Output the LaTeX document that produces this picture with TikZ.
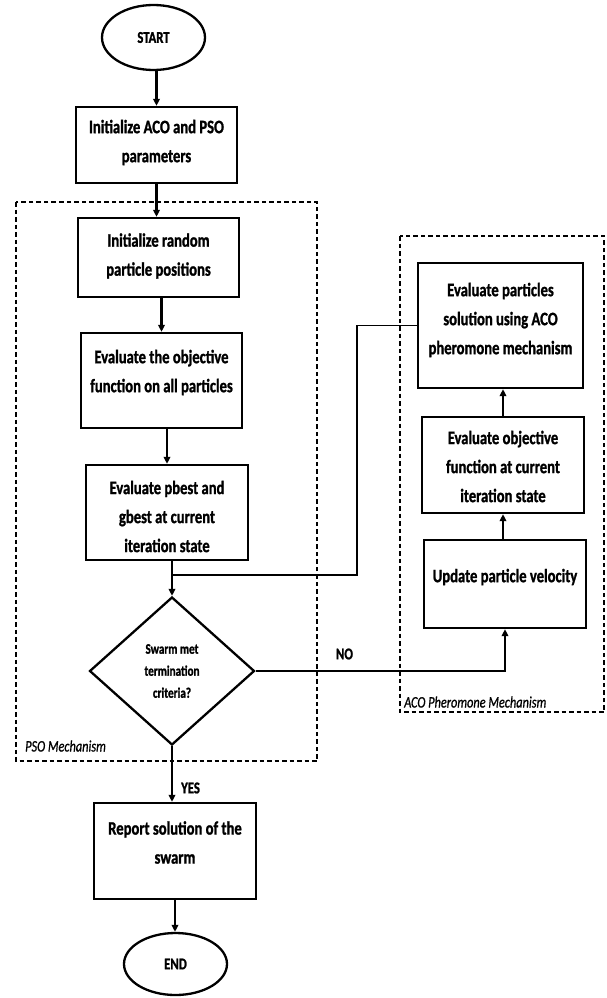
\documentclass[tikz,border=0pt]{standalone}
\usepackage{fontspec}
\setmainfont{Carlito}[FakeStretch=0.77,BoldFeatures={FakeBold=1.2},ItalicFeatures={FakeBold=0.8}]
\usetikzlibrary{shapes.geometric,arrows.meta}
\begin{document}
\begin{tikzpicture}[x=1pt,y=-1pt,
  box/.style={draw,line width=2.3pt,inner sep=0pt},
  txt/.style={font=\bfseries\fontsize{19}{29}\selectfont,align=center,inner sep=0pt},
  term/.style={draw,ellipse,line width=2.3pt,inner sep=0pt,font=\bfseries\fontsize{16.5}{20}\selectfont},
  dec/.style={draw,diamond,line width=2.3pt,inner sep=0pt,align=center,font=\bfseries\fontsize{14.5}{22}\selectfont},
  arr/.style={line width=2.1pt,-{Triangle[length=7pt,width=6.5pt]}},
  link/.style={line width=1.9pt},
  grp/.style={line width=1.6pt,dash pattern=on 4.5pt off 3pt},
  lab/.style={font=\bfseries\fontsize{16.5}{20}\selectfont,inner sep=0pt},
  mech/.style={font=\itshape\fontsize{16}{20}\selectfont,inner sep=0pt,anchor=west}]
\useasboundingbox (0,0) rectangle (606,998);
% group frames
\draw[grp] (16,202) rectangle (317,761);
\draw[grp] (400,236) rectangle (604,712);
\node[mech] (pso) at (25,746) {PSO Mechanism};
\node[mech] (aco) at (404,702) {ACO Pheromone Mechanism};
% terminals
\node[term,minimum width=103pt,minimum height=65pt] (start) at (153.5,37.5) {START};
\node[term,minimum width=103pt,minimum height=62pt] (end) at (175.5,964) {END};
% boxes
\node[box,minimum width=161pt,minimum height=76pt] (b1) at (156.5,145) {};
\node[txt] (t1) at (156.5,142.5) {Initialize ACO and PSO\\parameters};
\node[box,minimum width=161pt,minimum height=79pt] (b2) at (158.5,257.5) {};
\node[txt] (t2) at (158.5,256) {Initialize random\\particle positions};
\node[box,minimum width=161pt,minimum height=95pt] (b3) at (161.5,380.5) {};
\node[txt] (t3) at (161.5,372.5) {Evaluate the objective\\function on all particles};
\node[box,minimum width=162pt,minimum height=95pt] (b4) at (167,512.5) {};
\node[txt] (t4) at (167,516.5) {Evaluate pbest and\\gbest at current\\iteration state};
\node[dec,minimum width=165pt,minimum height=148pt] (dia) at (172,671) {Swarm met\\termination\\criteria?};
\node[box,minimum width=162pt,minimum height=96pt] (b5) at (175,851) {};
\node[txt] (t5) at (175,842.5) {Report solution of the\\swarm};
\node[box,minimum width=165pt,minimum height=125pt] (b7) at (500.5,325.5) {};
\node[txt] (t7) at (500.5,320) {Evaluate particles\\solution using ACO\\pheromone mechanism};
\node[box,minimum width=162pt,minimum height=96pt] (b8) at (503,465) {};
\node[txt] (t8) at (503,466.5) {Evaluate objective\\function at current\\iteration state};
\node[box,minimum width=162pt,minimum height=88pt] (b9) at (505,584) {};
\node[txt] (t9) at (505,577) {Update particle velocity};
% connectors
\draw[arr] (b1.north |- start.south) -- (b1.north);
\draw[arr] (b1.south) -- (b1.south |- b2.north);
\draw[arr] (b3.north |- b2.south) -- (b3.north);
\draw[arr] (b4.north |- b3.south) -- (b4.north);
\draw[arr] (dia.north |- b4.south) -- (dia.north);
\coordinate (jy) at (0,575);
\coordinate (fx) at (357,0);
\draw[link] (b7.west) -- (fx |- b7.west) -- (fx |- jy) -- (dia.north |- jy);
\draw[arr] (dia.south) -- (dia.south |- b5.north);
\node[lab,anchor=west] (yes) at (181,788) {YES};
\draw[arr] (b5.south) -- (b5.south |- end.north);
\draw[arr] (dia.east) -- (b9.south |- dia.east) -- (b9.south);
\node[lab] (no) at (344.5,654) {NO};
\draw[arr] (b8.south |- b9.north) -- (b8.south);
\draw[arr] (b8.north) -- (b8.north |- b7.south);
\end{tikzpicture}
\end{document}
